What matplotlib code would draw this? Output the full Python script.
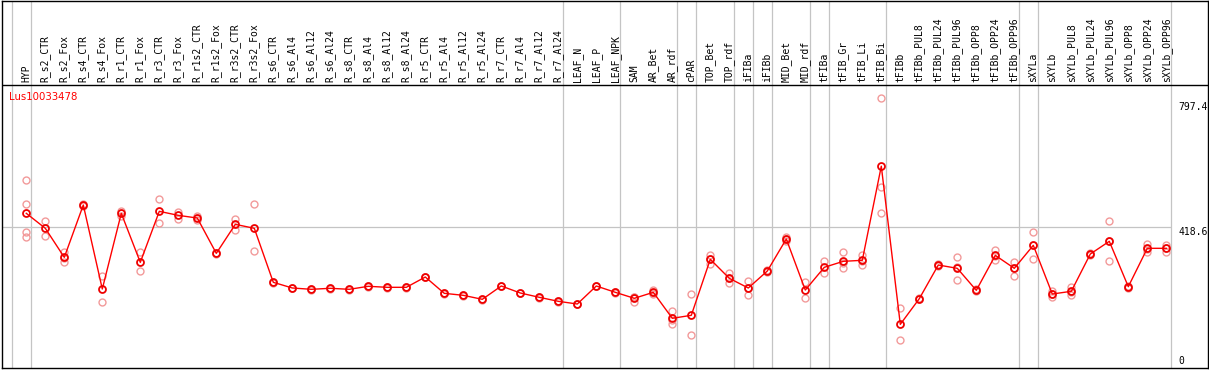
import matplotlib
matplotlib.use("Agg")
import matplotlib.pyplot as plt
from matplotlib.transforms import offset_copy

categories = ["HYP", "R_s2_CTR", "R_s2_Fox", "R_s4_CTR", "R_s4_Fox", "R_r1_CTR", "R_r1_Fox",
              "R_r3_CTR", "R_r3_Fox", "R_r1s2_CTR", "R_r1s2_Fox", "R_r3s2_CTR", "R_r3s2_Fox",
              "R_s6_CTR", "R_s6_Al4", "R_s6_Al12", "R_s6_Al24", "R_s8_CTR", "R_s8_Al4",
              "R_s8_Al12", "R_s8_Al24", "R_r5_CTR", "R_r5_Al4", "R_r5_Al12", "R_r5_Al24",
              "R_r7_CTR", "R_r7_Al4", "R_r7_Al12", "R_r7_Al24", "LEAF_N", "LEAF_P", "LEAF_NPK",
              "SAM", "AR_Bet", "AR_rdf", "cPAR", "TOP_Bet", "TOP_rdf", "iFIBa", "iFIBb",
              "MID_Bet", "MID_rdf", "tFIBa", "tFIB_Gr", "tFIB_Li", "tFIB_Bi", "tFIBb",
              "tFIBb_PUL8", "tFIBb_PUL24", "tFIBb_PUL96", "tFIBb_OPP8", "tFIBb_OPP24",
              "tFIBb_OPP96", "sXYLa", "sXYLb", "sXYLb_PUL8", "sXYLb_PUL24", "sXYLb_PUL96",
              "sXYLb_OPP8", "sXYLb_OPP24", "sXYLb_OPP96"]

means = [457.6, 413.3, 327.4, 482.2, 233.7, 457.6, 312.6, 463.5, 451.6, 443.7, 339.2, 425.0,
         413.3, 253.5, 236.7, 232.8, 235.8, 232.8, 241.7, 238.7, 238.7, 269.2, 220.9, 215.0,
         203.2, 242.6, 221.9, 209.1, 197.3, 189.3, 242.6, 223.9, 206.2, 223.9, 147.0, 155.9,
         321.6, 265.3, 236.7, 286.9, 381.6, 230.7, 297.9, 315.6, 318.6, 597.1, 129.2, 205.1,
         304.7, 294.9, 229.8, 333.3, 294.9, 362.9, 218.9, 226.9, 337.2, 374.8, 240.6, 354.1,
         354.1]

replicates = [
    [555.3, 485.2, 403.2, 388.4], [434.9, 391.4], [342.2, 325.0, 314.5], [484.0, 480.0],
    [273.1, 194.3], [464.0, 451.0], [342.2, 286.0], [499.0, 428.0], [462.4, 440.8],
    [449.0, 438.0], [341.0, 337.0], [440.8, 408.2], [484.3, 345.2],
    [255.0, 252.0], [238.0, 235.4], [234.0, 231.6], [237.0, 234.6], [234.0, 231.6],
    [243.0, 240.4], [240.0, 237.4], [240.0, 237.4], [270.5, 268.0], [222.0, 219.8],
    [216.2, 213.8], [204.4, 202.0], [243.8, 241.4], [223.0, 220.8], [210.3, 207.9],
    [198.5, 196.1], [190.5, 188.1], [243.8, 241.4],
    [226.0, 222.0], [211.5, 210.9, 196.1], [230.7, 222.0, 218.9], [168.6, 143.0, 129.3],
    [218.0, 96.7], [335.3, 321.6, 307.7], [280.1, 265.0, 250.5], [257.4, 237.7, 215.0],
    [289.0, 285.0], [388.4, 381.6, 374.8], [254.4, 208.0], [315.6, 282.0],
    [342.2, 309.7, 294.9], [334.3, 317.0, 304.7], [797.4, 536.4, 457.6], [176.5, 81.9],
    [207.0, 203.0], [307.0, 302.4], [327.4, 297.9, 259.4], [232.8, 226.8],
    [349.1, 331.3, 319.5], [314.5, 297.1, 273.1], [403.2, 363.9, 321.6],
    [227.8, 219.8, 209.1], [240.6, 224.1, 216.0], [339.2, 335.2], [434.0, 374.8, 315.6],
    [243.6, 237.6], [366.8, 352.3, 343.2], [363.9, 355.2, 343.2]]

# group separators: a gray line drawn just after these category indices
group_ends = [-1, 0, 28, 31, 34, 35, 37, 38, 39, 41, 42, 45, 52, 53, 60]
title = "Lus10033478"
max_value = 797.4
mid_value = 418.6

# ---- layout (pixels) ----
W, H = 1209, 370
left_px, right_px = 1.5, 1208.0
top_px, bottom_px = 0.5, 368.0
plot_top_px = 85.0
x0_px, step_px = 26.3, 19.0

fig = plt.figure(figsize=(W / 100, H / 100), dpi=100)
ax = fig.add_axes([left_px / W, (H - bottom_px) / H,
                   (right_px - left_px) / W, (bottom_px - top_px) / H])

ytop = max_value * 1.05
per_px = ytop / (bottom_px - plot_top_px)
ax.set_xlim((left_px - x0_px) / step_px, (right_px - x0_px) / step_px)
ax.set_ylim(0, ytop + (plot_top_px - top_px) * per_px)
ax.set_xticks([])
ax.set_yticks([])
for s in ax.spines.values():
    s.set_color("black")
    s.set_linewidth(1.0)

grid_c = "#c4c4c4"
xs = list(range(len(categories)))
for g in group_ends:
    ax.axvline(g + 0.23, color=grid_c, lw=0.9, zorder=1)
ax.hlines(mid_value, ax.get_xlim()[0], group_ends[-1] + 0.23, color=grid_c, lw=0.9, zorder=1)
ax.axhline(ytop, color="black", lw=1.0, zorder=5)

# replicates
rx, ry = [], []
for i, reps in enumerate(replicates):
    for v in reps:
        rx.append(i)
        ry.append(v)
ax.plot(rx, ry, "o", mfc="none", mec="#f29a9a", ms=5.0, mew=1.0, zorder=2, clip_on=False)

# means
ax.plot(xs, means, "-", color="#ff0000", lw=1.0, zorder=3)
ax.plot(xs, means, "o", mfc="none", mec="#ee0000", ms=5.0, mew=1.3, zorder=4)

mono = "DejaVu Sans Mono"
lab_tr = offset_copy(ax.transData, fig=fig, x=0, y=3, units="dots")
for i, c in enumerate(categories):
    ax.text(i, ytop, c, rotation=90, ha="center", va="bottom", fontsize=7,
            family=mono, color="black", transform=lab_tr)

fig.text(9 / W, 1 - 96.5 / H, title, color="#ff0000", fontsize=7.3, va="center", ha="left",
         family="DejaVu Sans")

xr = group_ends[-1] + 0.23
ax.text(xr, max_value, "797.4", fontsize=7, family=mono, ha="left", va="top",
        transform=offset_copy(ax.transData, fig=fig, x=8, y=-4, units="dots"))
ax.text(xr, mid_value, "418.6", fontsize=7, family=mono, ha="left", va="top",
        transform=offset_copy(ax.transData, fig=fig, x=8, y=0, units="dots"))
ax.text(xr, 0, "0", fontsize=7, family=mono, ha="left", va="bottom",
        transform=offset_copy(ax.transData, fig=fig, x=8, y=2, units="dots"))

fig.savefig("out.png", dpi=100)
